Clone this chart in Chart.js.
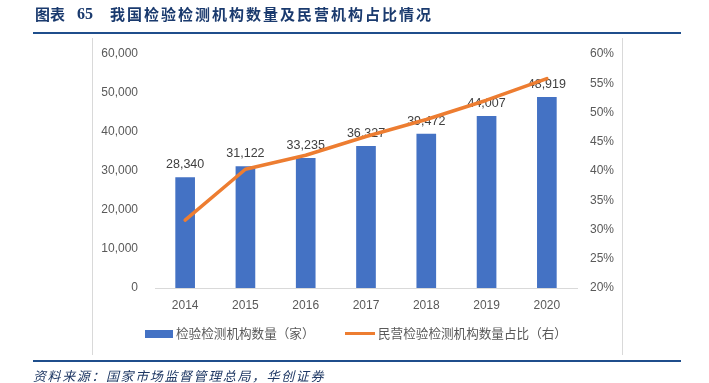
<!DOCTYPE html>
<html>
<head>
<meta charset="utf-8">
<script src="https://cdn.jsdelivr.net/npm/chart.js@4.4.1/dist/chart.umd.min.js"></script>
<style>
  html, body { margin: 0; padding: 0; background: #fff; }
  #wrap { position: relative; width: 709px; height: 383px; overflow: hidden; }
  #c { position: absolute; left: 0; top: 0; }
  .abs { position: absolute; white-space: nowrap; }
  .title { font-family: "Noto Sans CJK SC", sans-serif; font-weight: bold; color: #1a3a6e; font-size: 15px; line-height: 16px; }
  .src { font-family: "Noto Sans CJK SC", sans-serif; font-style: italic; color: #1f3864; font-size: 13px; line-height: 14px; letter-spacing: 1.6px; }
  .leg { font-family: "Noto Sans CJK SC", sans-serif; color: #595959; font-size: 12.6px; line-height: 14px; }
</style>
</head>
<body>
<div id="wrap">
  <canvas id="c" width="709" height="383"></canvas>
  <div class="abs title" style="left:35px; top:6px;">图表</div>
  <div class="abs title" style="left:77px; top:6px; font-family:'Liberation Serif',serif; font-size:16px;">65</div>
  <div class="abs title" style="left:110px; top:6px; letter-spacing:2px;">我国检验检测机构数量及民营机构占比情况</div>
  <div class="abs" style="left:33px; top:32px; width:648px; height:2px; background:#1f4e8c;"></div>
  <div class="abs" style="left:92px; top:38px; width:1px; height:317px; background:#d9d9d9;"></div>
  <div class="abs" style="left:622px; top:38px; width:1px; height:317px; background:#d9d9d9;"></div>
  <div class="abs" style="left:145px; top:330px; width:28px; height:8px; background:#4472C4;"></div>
  <div class="abs leg" style="left:176px; top:326px;">检验检测机构数量（家）</div>
  <div class="abs" style="left:345px; top:332px; width:30px; height:3px; background:#ED7D31;"></div>
  <div class="abs leg" style="left:378px; top:326px;">民营检验检测机构数量占比（右）</div>
  <div class="abs" style="left:33px; top:360px; width:648px; height:2px; background:#1f4e8c;"></div>
  <div class="abs src" style="left:33px; top:369px;">资料来源：国家市场监督管理总局，华创证券</div>
</div>
<script>
const years = ['2014', '2015', '2016', '2017', '2018', '2019', '2020'];
const institutionCounts = [28340, 31122, 33235, 36327, 39472, 44007, 48919];
const privateShare = [31.6, 40.3, 42.7, 45.9, 48.8, 52.1, 55.8];
const leftTicks = [0, 10000, 20000, 30000, 40000, 50000, 60000];
const rightTicks = [20, 25, 30, 35, 40, 45, 50, 55, 60];

const tickFont = { family: "'Liberation Sans', Arial, sans-serif", size: 12 };
const tickColor = '#595959';

const barLabels = {
  id: 'barLabels',
  afterDatasetDraw(chart, args) {
    if (args.index !== 0) return;
    const ctx = chart.ctx;
    const meta = chart.getDatasetMeta(0);
    ctx.save();
    ctx.font = "12.5px 'Liberation Sans', Arial, sans-serif";
    ctx.fillStyle = '#404040';
    ctx.textAlign = 'center';
    ctx.textBaseline = 'middle';
    meta.data.forEach((el, i) => {
      ctx.fillText(institutionCounts[i].toLocaleString('en-US'), el.x, el.y - 13);
    });
    ctx.restore();
  }
};

new Chart(document.getElementById('c'), {
  data: {
    labels: years,
    datasets: [
      {
        type: 'bar',
        label: '检验检测机构数量（家）',
        data: institutionCounts,
        backgroundColor: '#4472C4',
        barThickness: 19,
        yAxisID: 'y',
        order: 1
      },
      {
        type: 'line',
        label: '民营检验检测机构数量占比（右）',
        data: privateShare,
        borderColor: '#ED7D31',
        borderWidth: 3.5,
        pointRadius: 0,
        tension: 0,
        borderCapStyle: 'round',
        borderJoinStyle: 'round',
        yAxisID: 'y1',
        order: 0
      }
    ]
  },
  options: {
    responsive: false,
    animation: false,
    layout: { padding: { top: 54, left: 0, right: 0, bottom: 0 } },
    plugins: { legend: { display: false }, tooltip: { enabled: false } },
    scales: {
      x: {
        grid: { display: false, drawTicks: false },
        border: { display: true, color: '#d9d9d9', width: 1 },
        ticks: { color: tickColor, font: tickFont, padding: 10 },
        afterFit(s) { s.height = 95; }
      },
      y: {
        position: 'left',
        min: 0, max: 60000,
        afterBuildTicks(s) { s.ticks = leftTicks.map(v => ({ value: v })); },
        grid: { display: false, drawTicks: false },
        border: { display: false },
        ticks: { color: tickColor, font: tickFont, padding: 17,
          callback: v => Number(v).toLocaleString('en-US') },
        afterFit(s) { s.width = 155; }
      },
      y1: {
        position: 'right',
        min: 20, max: 60,
        afterBuildTicks(s) { s.ticks = rightTicks.map(v => ({ value: v })); },
        grid: { display: false, drawTicks: false },
        border: { display: false },
        ticks: { color: tickColor, font: tickFont, padding: 13,
          callback: v => v + '%' },
        afterFit(s) { s.width = 132; }
      }
    }
  },
  plugins: [barLabels]
});
</script>
</body>
</html>
